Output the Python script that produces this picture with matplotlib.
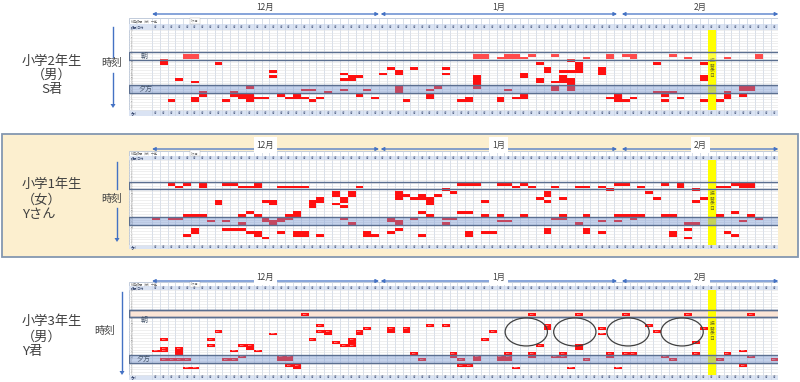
import matplotlib
matplotlib.use("Agg")
import matplotlib.pyplot as plt
from matplotlib.patches import Rectangle, Ellipse
from matplotlib.lines import Line2D

plt.rcParams['font.family'] = ['Noto Sans CJK JP', 'DejaVu Sans']

# ---- data -------------------------------------------------------------
n_days = 80          # one column per day, Dec -> Feb
n_rows = 30          # time-of-day rows
months = ['12月', '1月', '2月']
month_start = [0, 29.2, 60]
month_end = [29, 59.4, 80]
holiday_day = 71
holiday_text = '振替休日'

# usage blocks: (day, row, n_days, n_rows)
s_kun = [(4, 9, 2, 2), (1, 11, 1, 2), (8, 12, 1, 1), (15, 15, 1, 1), (15, 17, 1, 1),
         (3, 18, 1, 1), (5, 19, 1, 1), (12, 21, 1, 1), (24, 16, 1, 1), (25, 17, 2, 1),
         (24, 18, 2, 1), (19, 22, 2, 1), (22, 23, 1, 1), (24, 22, 1, 1), (27, 22, 1, 1),
         (6, 23, 1, 2), (5, 25, 1, 2), (2, 26, 1, 1), (9, 26, 1, 1), (10, 23, 1, 2),
         (11, 24, 1, 2), (12, 24, 1, 3), (13, 25, 2, 1), (16, 24, 1, 1), (17, 25, 1, 1),
         (18, 24, 1, 2), (19, 25, 1, 1), (20, 26, 1, 1), (21, 25, 1, 1), (26, 24, 1, 1),
         (28, 25, 1, 1), (29, 16, 1, 1), (30, 14, 1, 1), (31, 15, 1, 2), (31, 21, 1, 3),
         (33, 14, 1, 1), (37, 14, 1, 1), (37, 16, 1, 1), (35, 22, 1, 1), (36, 21, 1, 1),
         (35, 24, 1, 2), (32, 26, 1, 1), (39, 26, 1, 1), (40, 25, 1, 2), (41, 9, 2, 2),
         (41, 17, 1, 5), (44, 25, 1, 2), (44, 10, 1, 1), (45, 9, 2, 2), (47, 10, 1, 1),
         (48, 9, 1, 1), (49, 12, 1, 1), (50, 14, 1, 2), (49, 18, 1, 2), (45, 22, 1, 1),
         (46, 25, 2, 1), (47, 24, 1, 1), (47, 16, 1, 2), (51, 9, 1, 1), (51, 19, 2, 1),
         (51, 21, 1, 2), (52, 17, 1, 2), (52, 15, 2, 1), (53, 11, 1, 1), (54, 12, 1, 4),
         (53, 18, 1, 5), (55, 10, 1, 1), (57, 14, 1, 3), (58, 9, 1, 2), (58, 25, 1, 1),
         (59, 24, 1, 3), (60, 9, 1, 1), (61, 9, 1, 2), (60, 26, 1, 1), (61, 25, 1, 1),
         (64, 12, 1, 1), (64, 23, 3, 1), (65, 24, 1, 1), (65, 26, 1, 1), (66, 9, 1, 1),
         (67, 25, 1, 1), (68, 10, 1, 1), (70, 12, 1, 1), (70, 17, 1, 2), (70, 26, 1, 1),
         (72, 26, 1, 1), (73, 10, 1, 1), (73, 23, 1, 3), (75, 24, 1, 1), (75, 21, 2, 2),
         (77, 9, 1, 2)]

y_san = [(2, 8, 1, 1), (3, 9, 1, 1), (4, 8, 1, 1), (6, 8, 1, 2), (9, 8, 2, 1),
         (11, 9, 2, 1), (13, 8, 1, 2), (16, 9, 4, 1), (26, 9, 1, 1), (8, 14, 1, 2),
         (14, 14, 1, 1), (15, 14, 1, 2), (20, 14, 1, 3), (21, 13, 1, 2), (23, 11, 1, 2),
         (24, 13, 1, 2), (25, 11, 1, 2), (23, 15, 1, 1), (24, 16, 1, 1), (31, 13, 1, 1),
         (0, 20, 1, 1), (2, 20, 2, 1), (4, 19, 3, 1), (7, 21, 1, 1), (9, 21, 1, 1),
         (11, 19, 1, 1), (12, 18, 1, 1), (13, 19, 1, 1), (11, 22, 1, 1), (14, 20, 1, 2),
         (15, 21, 1, 2), (16, 20, 1, 2), (17, 20, 1, 1), (17, 19, 1, 1), (18, 18, 1, 2),
         (24, 20, 1, 1), (25, 22, 1, 1), (30, 20, 1, 2), (5, 24, 1, 2), (4, 26, 1, 1),
         (9, 24, 3, 1), (12, 25, 1, 1), (13, 25, 1, 2), (14, 27, 1, 1), (16, 25, 1, 1),
         (18, 25, 2, 2), (21, 26, 1, 1), (27, 25, 1, 2), (28, 26, 1, 1), (30, 25, 1, 1),
         (31, 24, 1, 1), (31, 11, 1, 2), (32, 12, 1, 1), (33, 13, 1, 1), (34, 12, 1, 2),
         (35, 13, 1, 3), (36, 12, 1, 1), (37, 10, 1, 1), (38, 11, 1, 1), (39, 8, 2, 1),
         (41, 8, 1, 1), (34, 18, 1, 1), (35, 19, 1, 1), (33, 20, 1, 1), (31, 21, 1, 2),
         (34, 26, 1, 1), (37, 20, 2, 1), (37, 22, 1, 1), (39, 18, 2, 1), (40, 25, 1, 2),
         (42, 14, 1, 1), (42, 19, 1, 1), (42, 25, 2, 1), (44, 8, 2, 1), (44, 19, 1, 1),
         (44, 21, 2, 1), (46, 9, 1, 1), (47, 8, 1, 1), (47, 19, 1, 1), (48, 9, 1, 1),
         (49, 13, 1, 1), (50, 11, 1, 2), (50, 14, 1, 1), (51, 9, 1, 1), (51, 20, 2, 1),
         (52, 19, 1, 1), (50, 24, 1, 2), (52, 13, 1, 1), (54, 9, 2, 1), (54, 22, 1, 1),
         (55, 19, 1, 1), (55, 24, 1, 2), (57, 9, 1, 1), (58, 10, 1, 1), (57, 21, 1, 1),
         (57, 25, 1, 1), (59, 8, 2, 1), (59, 19, 3, 1), (61, 20, 1, 1), (62, 19, 1, 1),
         (59, 21, 1, 1), (62, 9, 1, 1), (63, 11, 1, 1), (64, 13, 1, 1), (65, 19, 2, 1),
         (65, 8, 1, 1), (66, 25, 1, 2), (67, 8, 1, 2), (68, 22, 2, 1), (68, 24, 1, 1),
         (68, 27, 1, 1), (69, 10, 1, 1), (69, 14, 1, 1), (70, 13, 1, 1), (71, 19, 2, 1),
         (72, 9, 2, 1), (74, 8, 1, 1), (75, 8, 2, 2), (73, 25, 1, 1), (74, 26, 1, 1),
         (74, 18, 1, 1), (75, 21, 1, 1), (76, 19, 1, 1), (77, 20, 1, 1)]

y_kun = [(19, 8, 1, 1), (1, 17, 1, 1), (0, 21, 2, 1), (1, 20, 1, 1), (1, 24, 4, 1),
         (3, 20, 1, 3), (4, 27, 2, 1), (7, 17, 1, 1), (7, 19, 1, 1), (8, 14, 1, 1),
         (9, 24, 2, 1), (10, 21, 1, 1), (11, 19, 1, 1), (12, 19, 1, 2), (13, 21, 1, 1),
         (11, 23, 1, 1), (15, 15, 1, 1), (16, 23, 2, 2), (17, 26, 1, 1), (18, 26, 1, 2),
         (20, 17, 1, 1), (21, 12, 1, 1), (21, 14, 1, 1), (22, 14, 1, 2), (23, 18, 1, 1),
         (24, 19, 2, 1), (25, 17, 1, 2), (26, 14, 1, 2), (27, 13, 1, 1), (30, 13, 1, 2),
         (32, 13, 1, 2), (35, 12, 1, 1), (37, 12, 1, 1), (33, 22, 1, 1), (34, 24, 1, 1),
         (38, 22, 1, 2), (39, 24, 1, 1), (39, 26, 2, 1), (41, 23, 1, 2), (42, 17, 1, 1),
         (43, 14, 1, 1), (44, 23, 2, 2), (45, 22, 1, 1), (46, 27, 1, 1), (48, 8, 1, 1),
         (48, 22, 1, 2), (49, 19, 1, 1), (50, 12, 1, 2), (51, 23, 2, 1), (52, 22, 1, 1),
         (53, 27, 1, 1), (54, 8, 1, 1), (54, 19, 1, 2), (55, 24, 1, 1), (57, 13, 1, 1),
         (57, 15, 1, 1), (58, 22, 1, 2), (59, 27, 1, 1), (60, 8, 1, 1), (60, 22, 2, 1),
         (63, 12, 1, 1), (64, 14, 1, 1), (65, 23, 1, 1), (66, 24, 1, 1), (68, 8, 1, 1),
         (69, 18, 1, 1), (69, 22, 1, 1), (70, 13, 1, 1), (72, 24, 1, 1), (73, 22, 1, 1),
         (75, 21, 1, 1), (75, 26, 1, 1), (76, 23, 1, 1), (76, 8, 1, 1), (79, 24, 1, 1)]

panel_blocks = [s_kun, y_san, y_kun]
panel_names = [['小学2年生', '（男）', 'S君'],
               ['小学1年生', '（女）', 'Yさん'],
               ['小学3年生', '（男）', 'Y君']]
asa_rows = [(8.4, 11.3), (7.6, 10.2), (7.1, 9.6)]       # 朝 band
yugata_rows = [(20.6, 23.5), (20.1, 22.9), (22.9, 25.6)]  # 夕方 band
ring_days = [47.8, 54.0, 60.8, 67.7]   # circled gaps, Y君
ring_row = 14.8

# ---- layout (pixels) --------------------------------------------------
W, H = 800, 382
grid_x0, day_x0, col_w = 129, 152, 7.83
# grid top, body top, body bottom, grid bottom, arrow y, month label y
rows_px = [(18, 30, 110, 116, 14, 7),
           (151, 160, 245, 249, 149, 145),
           (282, 290, 375, 380, 281, 277)]

fig = plt.figure(figsize=(8, 3.82), dpi=100)

# backdrop of middle panel
fig.patches.append(Rectangle((2 / W, 1 - 257 / H), 796 / W, 123 / H,
                             transform=fig.transFigure, facecolor='#FCEFCF',
                             edgecolor='#8497B0', lw=1.3, zorder=-5))

label_cols = (day_x0 - grid_x0) / col_w
blue = '#4472C4'
for p in range(3):
    gt, bt, bb, gb, arr_y, lab_y = rows_px[p]
    rh = (bb - bt) / n_rows
    ax = fig.add_axes([grid_x0 / W, 1 - gb / H,
                       (day_x0 + n_days * col_w - grid_x0) / W, (gb - gt) / H])
    ax.set_zorder(1)
    ax.patch.set_visible(False)
    ax.set_xlim(-label_cols, n_days)
    top = -(bt - gt) / rh
    bottom = n_rows + (gb - bb) / rh
    ax.set_ylim(bottom, top)
    ax.axis('off')
    ypx = lambda y: (y - bt) / rh

    # sheet background, header and footer rows
    ax.add_patch(Rectangle((-label_cols, top), n_days + label_cols, bottom - top,
                           facecolor='white', edgecolor='#B8C4D6', lw=0.6, zorder=0))
    mid_h = top / 2
    ax.add_patch(Rectangle((-label_cols, mid_h), n_days + label_cols, -mid_h,
                           facecolor='#DAE3F3', lw=0, zorder=0.5))
    ax.add_patch(Rectangle((-label_cols, n_rows), n_days + label_cols, bottom - n_rows,
                           facecolor='#DAE3F3', lw=0, zorder=0.5))
    ax.text(-label_cols + 0.2, top / 4 * 3, '利用時間（分）一覧', fontsize=2.2,
            color='#6F6F6F', va='center', zorder=2)
    ax.text(5.0, top / 4 * 3, '1ヶ月', fontsize=2.2, color='#6F6F6F', va='center',
            zorder=2, bbox=dict(facecolor='white', edgecolor='#B0B0B0', lw=0.3, pad=0.6))
    ax.text(-label_cols + 0.2, mid_h / 2, '時間/日付', fontsize=2.2, color='#3A4A70',
            va='center', zorder=2)
    ax.text(-label_cols + 0.2, (n_rows + bottom) / 2, '合計', fontsize=2.2,
            color='#3A4A70', va='center', zorder=2)
    for d in range(n_days):
        ax.text(d + 0.5, mid_h / 2, '##', fontsize=2.2, color='#3A4A70',
                ha='center', va='center', zorder=2)
        ax.text(d + 0.5, (n_rows + bottom) / 2, '##', fontsize=2.2, color='#3A4A70',
                ha='center', va='center', zorder=2)
    for r in range(n_rows):
        ax.text(-label_cols + 0.2, r + 0.5, str(r % 24), fontsize=1.8, color='#8A8A8A',
                va='center', zorder=2)

    # cell grid
    ax.vlines(range(n_days + 1), top, bottom, color='#C8D2E2', lw=0.5, zorder=1)
    ax.hlines(range(n_rows + 1), -label_cols, n_days, color='#E4E4E4', lw=0.4, zorder=1)

    # usage blocks
    for d, r, nd, nr in panel_blocks[p]:
        ax.add_patch(Rectangle((d, r), nd, nr, facecolor='#FF1010', lw=0, zorder=3))
        if p == 2:
            for k in range(nd):
                ax.text(d + k + 0.5, r + 0.5, '0:30', fontsize=1.6, color='white',
                        ha='center', va='center', zorder=3.2)

    # holiday column
    ax.add_patch(Rectangle((holiday_day, 0), 1, n_rows, facecolor='#FFFF00', lw=0,
                           zorder=3.5))
    ax.text(holiday_day + 0.5, n_rows * 0.48, '\n'.join(holiday_text), fontsize=3.4,
            color='#6B6B20', ha='center', va='center', linespacing=1.0, zorder=3.6)

    # morning / evening bands
    a0, a1 = asa_rows[p]
    y0, y1 = yugata_rows[p]
    if p == 0:
        ax.add_patch(Rectangle((-label_cols, a0), n_days + label_cols + 0.2, a1 - a0,
                               facecolor=(1, 1, 1, 0.25), edgecolor='#5B6F90', lw=1.0,
                               zorder=4))
    elif p == 1:
        ax.add_patch(Rectangle((-label_cols, a0), n_days + label_cols + 0.2, a1 - a0,
                               facecolor='none', edgecolor='#5B6F90', lw=1.0, zorder=4))
    else:
        ax.add_patch(Rectangle((-label_cols, a0), n_days + label_cols + 0.2, a1 - a0,
                               facecolor='#FBE5D6', edgecolor='#5B6F90', lw=1.0,
                               zorder=2))
        ax.add_patch(Rectangle((-label_cols, a0), n_days + label_cols + 0.2, a1 - a0,
                               facecolor='none', edgecolor='#5B6F90', lw=1.0, zorder=4))
    ax.add_patch(Rectangle((-label_cols, y0), n_days + label_cols + 0.2, y1 - y0,
                           facecolor=(0.45, 0.58, 0.82, 0.42), edgecolor='#5B6F90',
                           lw=1.0, zorder=4))
    if p == 0:
        ax.text(-label_cols + 1.5, (a0 + a1) / 2, '朝', fontsize=5, color='#44546A',
                va='center', zorder=5)
        ax.text(-label_cols + 1.2, (y0 + y1) / 2, '夕方', fontsize=5, color='#44546A',
                va='center', zorder=5)
    elif p == 2:
        ax.text(-label_cols + 1.5, a1 + 1.0, '朝', fontsize=5, color='#44546A',
                va='center', zorder=5)
        ax.text(-label_cols + 1.0, (y0 + y1) / 2, '夕方', fontsize=5, color='#44546A',
                va='center', zorder=5)

    # circled gaps
    if p == 2:
        for cx in ring_days:
            ax.add_patch(Ellipse((cx, ring_row), 5.4, 9.9, facecolor='none',
                                 edgecolor='#404040', lw=0.9, zorder=6))

    # month arrows
    for m in range(3):
        ax.annotate('', xy=(month_end[m], ypx(arr_y)), xytext=(month_start[m], ypx(arr_y)),
                    arrowprops=dict(arrowstyle='<|-|>', color=blue, lw=0.9,
                                    mutation_scale=5, shrinkA=0, shrinkB=0),
                    annotation_clip=False, zorder=7)
        box = None if p == 0 else dict(facecolor='white', edgecolor='none', pad=2.2)
        ax.text((month_start[m] + month_end[m]) / 2, ypx(lab_y), months[m], fontsize=6,
                color='#404040', ha='center', va='center', clip_on=False, zorder=8,
                bbox=box)

# left captions and time arrows
name_pos = [(52, [61, 75, 89], 'center'), (22, [184, 200, 215], 'left'),
            (22, [322, 337, 352], 'left')]
for p in range(3):
    x, ys, ha = name_pos[p]
    for txt, y in zip(panel_names[p], ys):
        fig.text(x / W, 1 - y / H, txt, fontsize=9.5, color='#404040', ha=ha,
                 va='center')

tick_pos = [(112, 63), (112, 199), (105, 331)]
for x, y in tick_pos:
    fig.text(x / W, 1 - y / H, '時刻', fontsize=7.5, color='#404040', ha='center',
             va='center')

arrow_segs = [(113, 27, 57, 73, 108), (117, 162, 189, 208, 242), (122, 292, None, None, 375)]
for x, a, b, c, d in arrow_segs:
    if b is None:
        fig.add_artist(Line2D([x / W, x / W], [1 - a / H, 1 - (d - 3) / H],
                              color=blue, lw=1.0))
    else:
        fig.add_artist(Line2D([x / W, x / W], [1 - a / H, 1 - b / H], color=blue, lw=1.0))
        fig.add_artist(Line2D([x / W, x / W], [1 - c / H, 1 - (d - 3) / H],
                              color=blue, lw=1.0))
    fig.patches.append(plt.Polygon([[(x - 2.5) / W, 1 - (d - 4) / H],
                                    [(x + 2.5) / W, 1 - (d - 4) / H],
                                    [x / W, 1 - d / H]],
                                   closed=True, transform=fig.transFigure,
                                   facecolor=blue, edgecolor='none'))

fig.savefig('out.png', dpi=100)
